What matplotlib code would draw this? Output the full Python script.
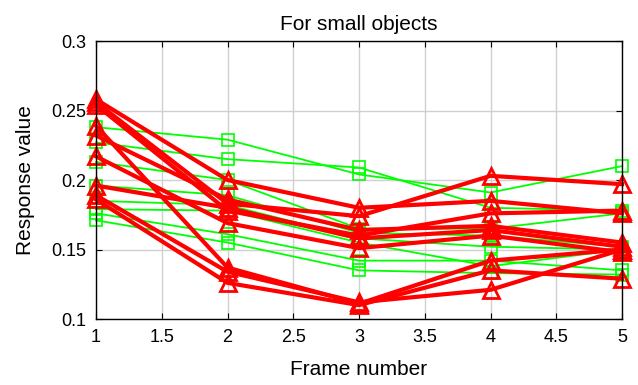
import matplotlib
matplotlib.use("Agg")
import matplotlib.pyplot as plt
import numpy as np

frames = [1, 2, 3, 4, 5]

green_series = [
    [0.238, 0.229, 0.204, 0.191, 0.210],
    [0.227, 0.215, 0.209, 0.180, 0.178],
    [0.213, 0.200, 0.165, 0.165, 0.176],
    [0.196, 0.189, 0.162, 0.160, 0.152],
    [0.185, 0.182, 0.158, 0.152, 0.150],
    [0.179, 0.178, 0.155, 0.138, 0.150],
    [0.176, 0.161, 0.142, 0.142, 0.135],
    [0.171, 0.155, 0.135, 0.133, 0.132],
]

red_series = [
    [0.258, 0.200, 0.180, 0.185, 0.176],
    [0.256, 0.183, 0.174, 0.203, 0.197],
    [0.254, 0.178, 0.160, 0.176, 0.178],
    [0.239, 0.137, 0.111, 0.142, 0.150],
    [0.232, 0.186, 0.164, 0.167, 0.155],
    [0.217, 0.169, 0.151, 0.160, 0.148],
    [0.196, 0.180, 0.158, 0.164, 0.152],
    [0.189, 0.134, 0.112, 0.121, 0.150],
    [0.186, 0.126, 0.110, 0.135, 0.129],
]

x_ticks = [1, 1.5, 2, 2.5, 3, 3.5, 4, 4.5, 5]
x_tick_labels = ["1", "1.5", "2", "2.5", "3", "3.5", "4", "4.5", "5"]
y_ticks = [0.1, 0.15, 0.2, 0.25, 0.3]
y_tick_labels = ["0.1", "0.15", "0.2", "0.25", "0.3"]

plt.rcParams['font.family'] = ['Liberation Sans', 'DejaVu Sans']

fig = plt.figure(figsize=(6.38, 3.85), dpi=100)
ax = fig.add_axes([0.1505, 0.1714, 0.8245, 0.7221])

for s in green_series:
    ax.plot(frames, s, color=(0, 1, 0), lw=1.3, marker='s', ms=8,
            mfc='none', mec=(0, 1, 0), mew=1.2, zorder=3, clip_on=False)
for s in red_series:
    ax.plot(frames, s, color=(1, 0, 0), lw=3, marker='^', ms=12,
            mfc='none', mec=(1, 0, 0), mew=2, zorder=4, clip_on=False)

ax.set_xlim(1, 5)
ax.set_ylim(0.1, 0.3)
ax.set_xticks(x_ticks)
ax.set_xticklabels(x_tick_labels)
ax.set_yticks(y_ticks)
ax.set_yticklabels(y_tick_labels)
ax.grid(True, color='#d0d0d0', lw=1)
ax.set_axisbelow(True)
ax.tick_params(direction='in', top=True, right=True, labelsize=13, length=4, pad=7)
for sp in ax.spines.values():
    sp.set_linewidth(1.0)
    sp.set_zorder(5)

ax.set_xlabel("Frame number", fontsize=15, labelpad=10)
ax.set_ylabel("Response value", fontsize=15, labelpad=12)
ax.set_title("For small objects", fontsize=15, pad=8)

fig.savefig("out.png", dpi=100)
